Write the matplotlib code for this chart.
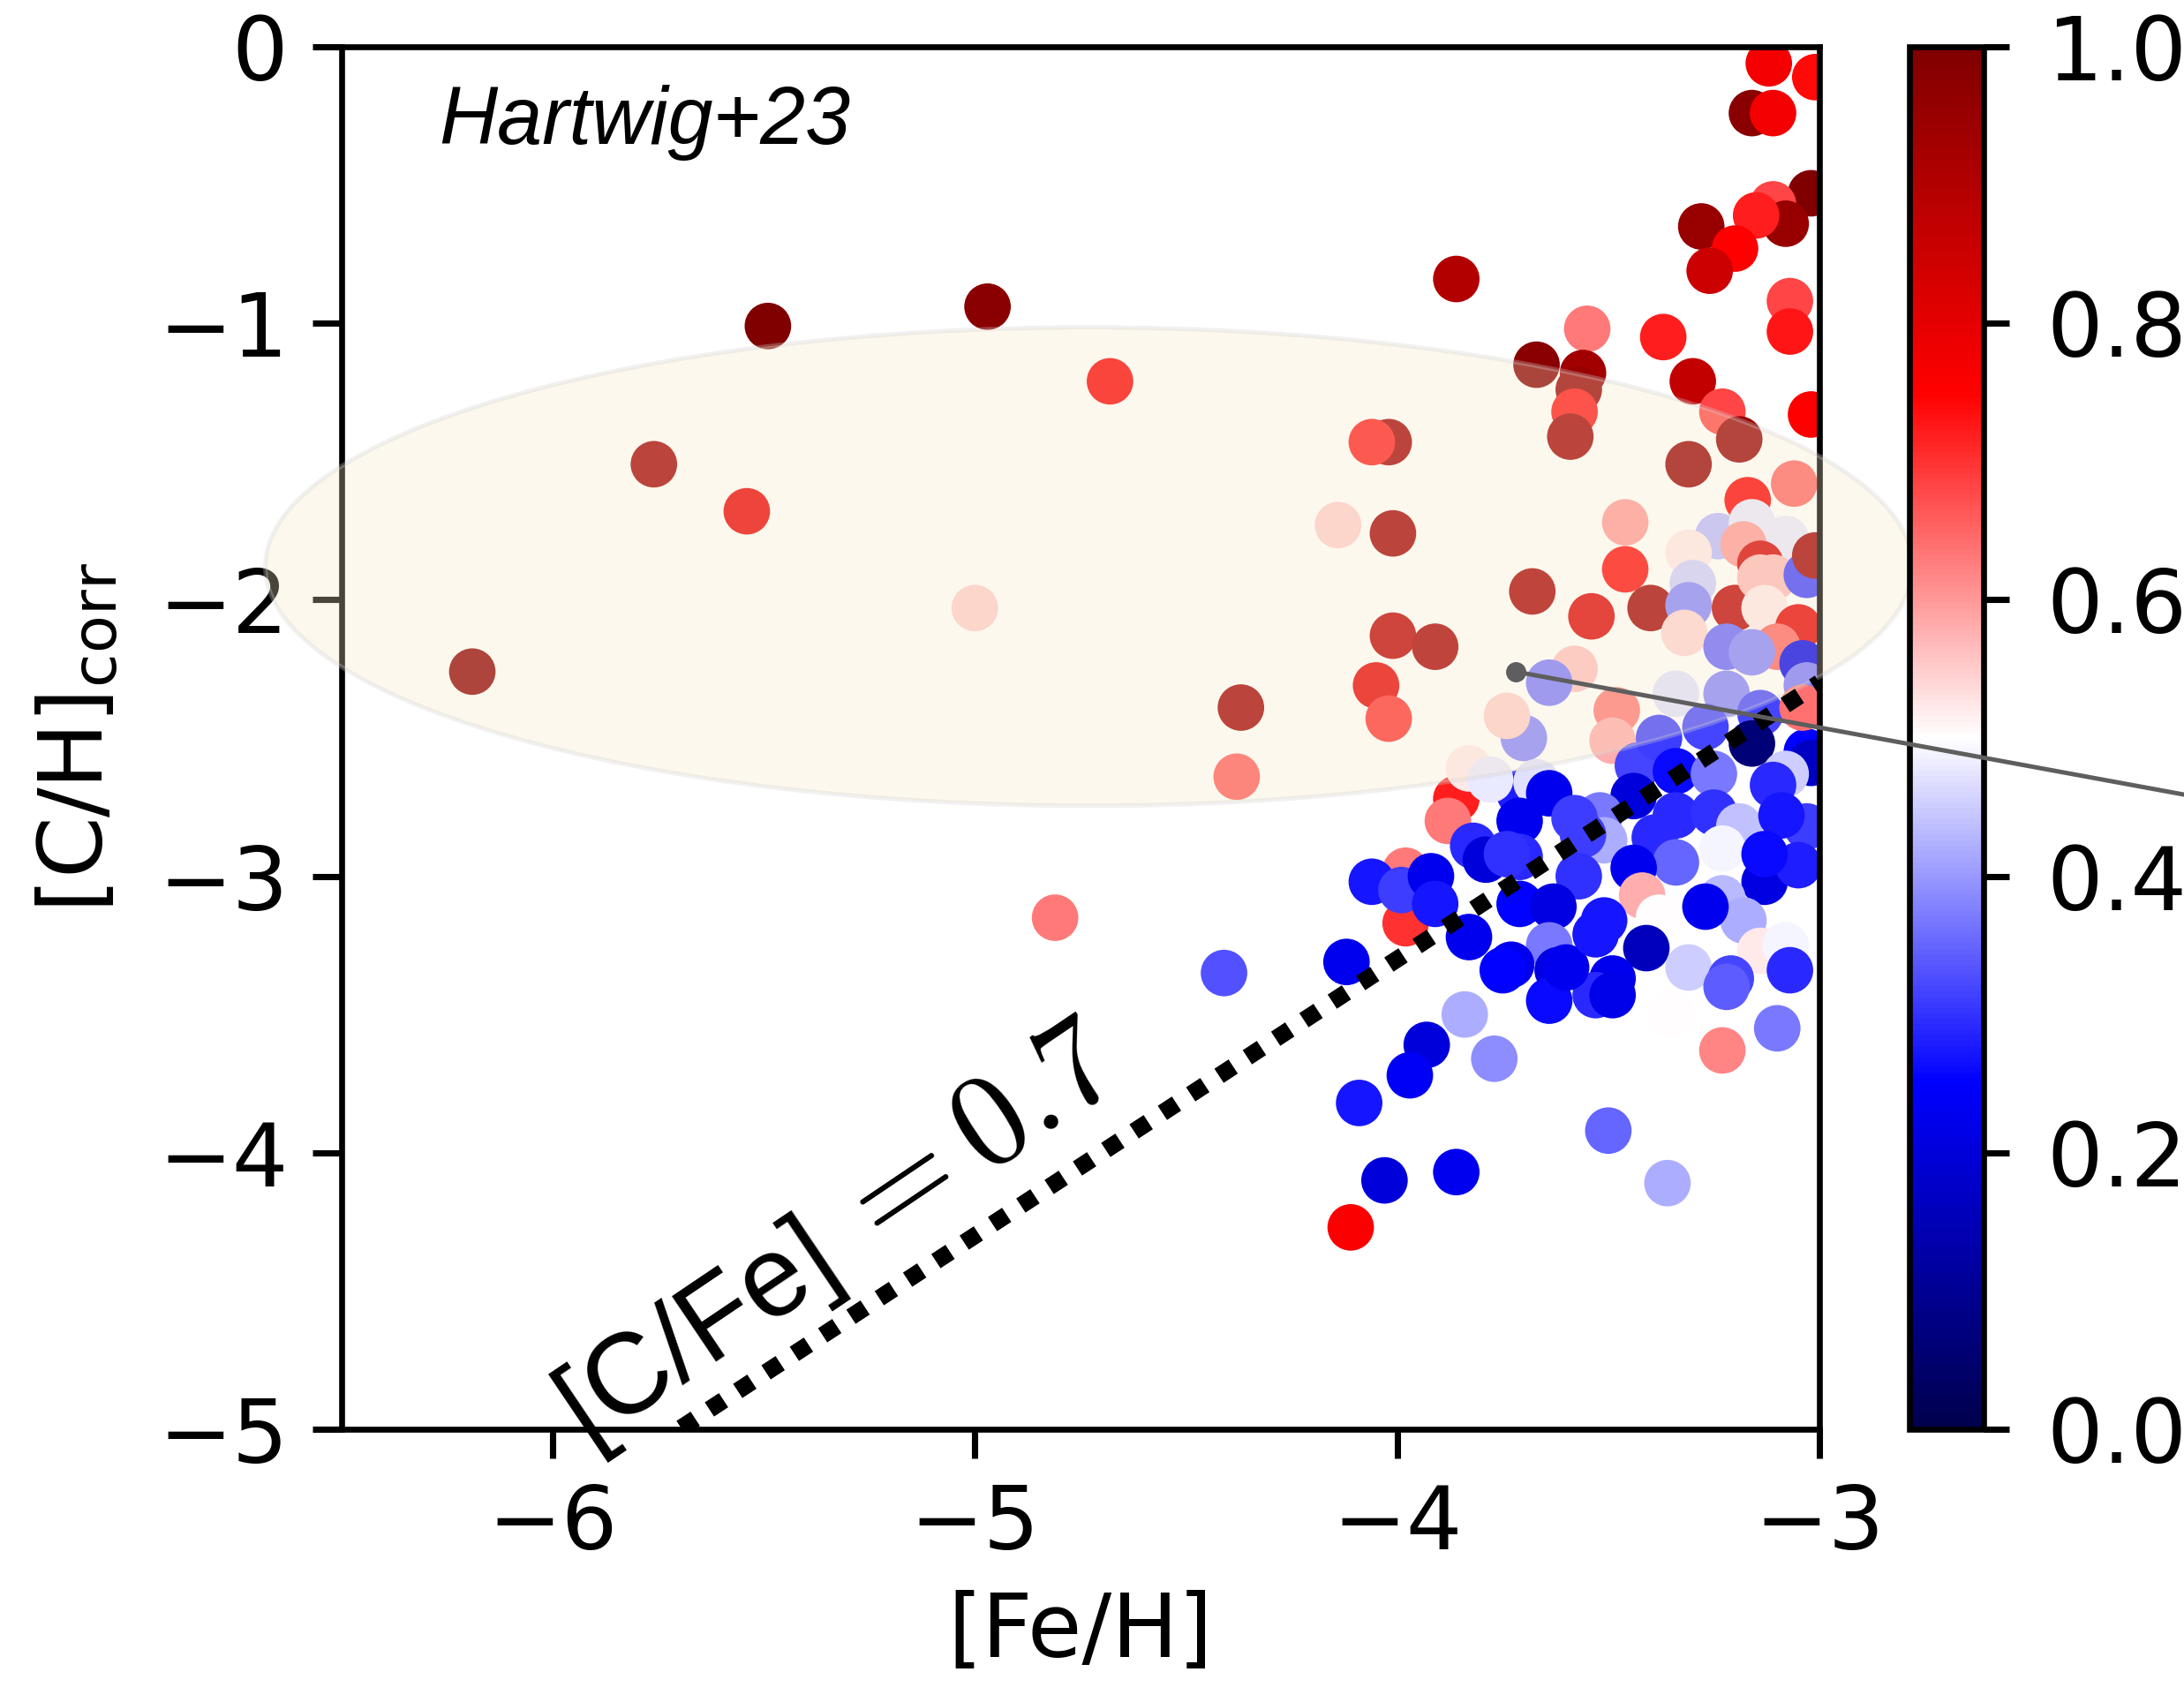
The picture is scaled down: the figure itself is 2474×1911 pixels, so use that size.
import numpy as np
import matplotlib.pyplot as plt
from matplotlib.patches import Ellipse, ConnectionPatch

# [Fe/H], [C/H]_corr and colour value (0-1) of each star
feh = [
    -6.19, -5.76, -5.54, -5.49, -4.97, -4.68, -5.00, -4.81, -4.41, -4.37,
    -4.38, -4.14, -4.02, -4.06, -4.01, -4.01, -4.05, -4.02, -3.91, -3.86,
    -3.67, -3.68, -3.86, -3.88, -3.98, -3.98, -4.11, -4.12, -4.06, -3.93,
    -3.97, -4.09, -4.03, -3.86, -3.84, -3.77, -3.50, -3.36, -3.23, -3.10,
    -3.16, -3.11, -3.12, -3.01, -3.02, -3.11, -3.08, -3.15, -3.28, -3.20,
    -3.26, -3.07, -3.07, -3.55, -3.37,
    -3.56, -3.57, -3.58, -3.59, -3.30, -3.23, -3.19, -3.02, -3.31, -3.06,
    -3.17, -3.46, -3.24, -3.16, -3.08, -3.31, -3.18, -3.46, -3.54, -3.40,
    -3.30, -3.31, -3.32, -3.20, -3.14, -3.14, -3.11, -3.13, -3.03, -3.01,
    -3.05, -3.10, -3.22, -3.16, -3.04, -3.58, -3.64,
    -3.48, -3.49, -3.70, -3.74, -3.34, -3.22, -3.14, -3.03, -3.43, -3.38,
    -3.27, -3.16, -3.03, -3.02, -3.08, -3.34, -3.25, -3.11, -3.71, -3.67,
    -3.64, -3.44, -3.34, -3.25, -3.19, -3.03, -3.09, -3.52, -3.71, -3.51,
    -3.56, -3.39, -3.34, -3.23, -3.44, -3.71, -3.57, -3.13, -3.05, -3.13,
    -3.23, -3.18, -3.27, -3.71, -3.63, -3.42, -3.38, -3.51, -3.64, -3.41,
    -3.31, -3.14, -3.08, -3.07, -3.73, -3.62, -3.49, -3.21, -3.64, -3.53,
    -3.49, -3.22, -3.35, -3.83, -3.78, -3.82, -3.79, -3.74, -3.58, -3.99,
    -3.92, -3.91, -3.83, -3.75, -3.60, -3.53, -3.04,
]
ch = [
    -2.26, -1.51, -1.68, -1.01, -0.94, -1.21, -2.03, -3.15, -3.35, -2.39,
    -2.64, -1.73, -1.43, -1.43, -1.76, -2.13, -2.31, -2.43, -2.17, -0.84,
    -1.15, -1.97, -2.72, -2.80, -2.98, -3.17, -4.27, -3.31, -3.02, -3.61,
    -3.72, -3.82, -4.10, -4.07, -3.50, -3.66, -3.92, -4.11, -3.63, -3.55,
    -0.24, -0.24, -0.06, -0.11, -0.53, -0.57, -0.64, -0.61, -0.65, -0.73,
    -0.81, -0.92, -1.03, -1.02, -1.05,
    -1.18, -1.24, -1.32, -1.41, -1.21, -1.32, -1.42, -1.33, -1.51, -1.58,
    -1.64, -1.72, -1.77, -1.72, -1.78, -1.83, -1.80, -1.89, -2.06, -2.03,
    -1.94, -2.02, -2.12, -2.03, -1.87, -1.92, -1.92, -2.03, -1.91, -1.84,
    -2.10, -2.17, -2.17, -2.19, -2.23, -2.25, -2.30,
    -2.40, -2.51, -2.50, -2.42, -2.34, -2.34, -2.41, -2.31, -2.60, -2.50,
    -2.46, -2.52, -2.55, -2.59, -2.63, -2.62, -2.63, -2.67, -2.70, -2.66,
    -2.70, -2.71, -2.78, -2.77, -2.82, -2.82, -2.78, -2.78, -2.80, -2.87,
    -2.85, -2.86, -2.95, -2.90, -2.97, -2.93, -3.00, -3.02, -2.96, -2.92,
    -3.08, -3.16, -3.11, -3.10, -3.11, -3.07, -3.15, -3.16, -3.25, -3.26,
    -3.33, -3.27, -3.25, -3.34, -3.32, -3.34, -3.37, -3.37, -3.45, -3.43,
    -3.43, -3.40, -3.50, -2.61, -2.65, -2.89, -2.94, -2.92, -2.79, -3.05,
    -3.00, -3.10, -3.22, -3.34, -3.33, -3.21, -2.39,
]
frac = [
    0.97, 0.93, 0.79, 1.00, 0.98, 0.76, 0.55, 0.63, 0.33, 0.93,
    0.66, 0.55, 0.93, 0.72, 0.93, 0.88, 0.80, 0.70, 0.92, 0.90,
    0.98, 0.92, 0.72, 0.63, 0.63, 0.70, 0.76, 0.23, 0.27, 0.20,
    0.24, 0.27, 0.20, 0.23, 0.42, 0.39, 0.35, 0.42, 0.62, 0.37,
    0.98, 0.77, 0.77, 0.74, 1.00, 0.68, 0.95, 0.72, 0.95, 0.75,
    0.85, 0.68, 0.73, 0.63, 0.72,
    0.93, 0.95, 0.73, 0.93, 0.87, 0.68, 0.95, 0.75, 0.95, 0.65,
    0.75, 0.60, 0.43, 0.48, 0.48, 0.52, 0.60, 0.74, 0.82, 0.93,
    0.45, 0.38, 0.54, 0.88, 0.83, 0.57, 0.57, 0.52, 0.31, 0.93,
    0.80, 0.65, 0.35, 0.38, 0.22, 0.56, 0.37,
    0.63, 0.58, 0.38, 0.55, 0.47, 0.38, 0.32, 0.37, 0.32, 0.31,
    0.32, 0.06, 0.25, 0.17, 0.45, 0.26, 0.37, 0.29, 0.28, 0.47,
    0.23, 0.20, 0.29, 0.30, 0.44, 0.31, 0.27, 0.37, 0.23, 0.42,
    0.31, 0.29, 0.35, 0.49, 0.23, 0.29, 0.30, 0.21, 0.28, 0.26,
    0.43, 0.42, 0.23, 0.25, 0.21, 0.58, 0.50, 0.27, 0.37, 0.16,
    0.45, 0.52, 0.49, 0.29, 0.23, 0.21, 0.23, 0.32, 0.26, 0.29,
    0.22, 0.34, 0.50, 0.52, 0.48, 0.29, 0.20, 0.30, 0.31, 0.31,
    0.23, 0.27, 0.23, 0.25, 0.23, 0.27, 0.64,
]

cfe_cut = 0.7
feh_line = np.array([-6.5, -3.0])
ch_line = feh_line + cfe_cut

plt.rcParams['font.family'] = ['DejaVu Sans']
plt.rcParams['axes.linewidth'] = 1.6

fig = plt.figure(figsize=(2474 / 300, 1911 / 300), dpi=300)
ax = fig.add_axes([0.1563, 0.1528, 0.6768, 0.8195])
cax = fig.add_axes([0.8743, 0.1528, 0.034, 0.8195])

sc = ax.scatter(feh, ch, c=frac, cmap='seismic', vmin=0, vmax=1,
                s=160, linewidths=0, zorder=1)

# highlighted region
ell = Ellipse((-4.73, -1.88), 3.9, 1.73, facecolor=(0.97, 0.91, 0.78),
              edgecolor='lightgray', lw=1.2, alpha=0.3, zorder=3, clip_on=False)
ax.add_patch(ell)

ax.plot(feh_line, ch_line, color='k', lw=4.6, linestyle=(0, (1, 1)), zorder=4)

# label of the dotted line: sans part + larger CM math part on one baseline
rot = 34
lab_xy = (-5.92, -5.05)
ax.text(lab_xy[0], lab_xy[1], '[C/Fe]', rotation=rot, rotation_mode='anchor',
        ha='left', va='baseline', fontsize=31, family=['Liberation Sans'],
        clip_on=False, zorder=5)
d = 90
ax.annotate(r'$=0.7$', xy=lab_xy, xycoords='data',
            xytext=(d * np.cos(np.radians(rot)), d * np.sin(np.radians(rot))),
            textcoords='offset points', rotation=rot, rotation_mode='anchor',
            ha='left', va='baseline', fontsize=36, math_fontfamily='cm',
            annotation_clip=False, zorder=5)

ax.text(0.066, 0.93, 'Hartwig+23', transform=ax.transAxes, fontsize=22,
        style='italic', family=['Liberation Sans'], va='baseline')

ax.set_xlim(-6.5, -3)
ax.set_ylim(-5, 0)
ax.set_xticks([-6, -5, -4, -3])
ax.set_yticks([-5, -4, -3, -2, -1, 0])
ax.tick_params(axis='both', which='major', labelsize=24, length=8, width=1.7, pad=6.5)
ax.set_xlabel('[Fe/H]', fontsize=24, labelpad=6)
ax.set_ylabel(r'[C/H]$_{\rm corr}$', fontsize=24, labelpad=10)

cb = fig.colorbar(sc, cax=cax, ticks=[0, 0.2, 0.4, 0.6, 0.8, 1.0])
cb.outline.set_linewidth(1.6)
cax.tick_params(labelsize=24, length=7, width=1.7, pad=10)

# pointer line leading off to the right
con = ConnectionPatch(xyA=(-3.72, -2.26), coordsA=ax.transData,
                      xyB=(1.0, 0.529), coordsB=fig.transFigure,
                      color='#5e5e5e', lw=1.2)
fig.add_artist(con)
ax.plot([-3.72], [-2.26], 'o', color='#5e5e5e', ms=4.5, zorder=6, clip_on=False)

fig.savefig('out.png', dpi=300)
